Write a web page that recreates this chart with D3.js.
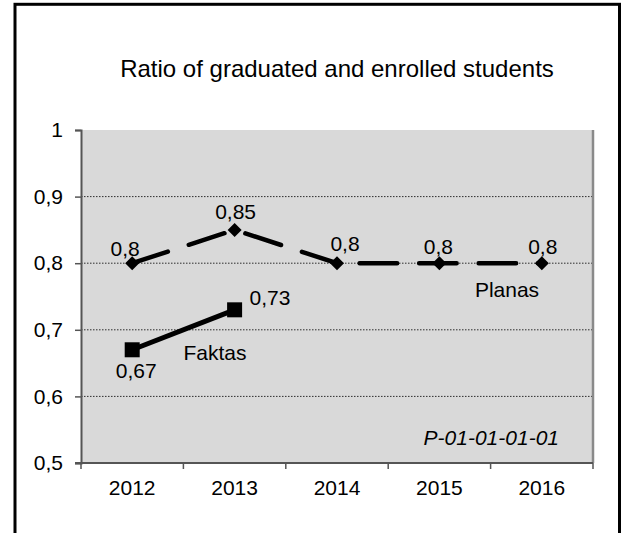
<!DOCTYPE html>
<html><head><meta charset="utf-8">
<script src="https://cdn.jsdelivr.net/npm/d3@7"></script>
<style>
html,body{margin:0;padding:0;background:#fff;}
svg{display:block;font-family:"Liberation Sans",Arial,sans-serif;}
</style></head>
<body>
<svg id="chart" width="630" height="533"></svg>
<script>
const title = "Ratio of graduated and enrolled students";
const years = ["2012","2013","2014","2015","2016"];
const planas = [0.8, 0.85, 0.8, 0.8, 0.8];
const faktas = [0.67, 0.73];
const yTicks = [0.5, 0.6, 0.7, 0.8, 0.9, 1.0];
const gridTicks = [0.6, 0.7, 0.8, 0.9];
const planasName = "Planas";
const faktasName = "Faktas";
const code = "P-01-01-01-01";

// layout offsets for data labels (dx, dy from point)
const planasLabelOff = [[-7,-7],[1,-11],[8,-12],[-1,-9],[1,-9]];
const faktasLabelOff = [[4,28,"middle"],[15,-5,"start"]];

const fmt = v => String(v).replace(".", ",");
const FS = 21;

const svg = d3.select("#chart");
const L = 81, R = 593, T = 130, B = 463;

// outer frame
svg.append("rect").attr("x",15).attr("y",4.3).attr("width",604.5).attr("height",560)
  .attr("fill","none").attr("stroke","#000").attr("stroke-width",3);

const x = d3.scaleBand().domain(years).range([L,R]).padding(0);
const xc = d => x(d) + x.bandwidth()/2;
const y = d3.scaleLinear().domain([0.5,1]).range([B,T]);

// plot background
svg.append("rect").attr("x",L).attr("y",T).attr("width",R-L).attr("height",B-T).attr("fill","#d9d9d9");

// gridlines
svg.append("g").selectAll("line").data(gridTicks).join("line")
  .attr("x1",L).attr("x2",R).attr("y1",d=>y(d)).attr("y2",d=>y(d))
  .attr("stroke","#000").attr("stroke-width",0.8).attr("stroke-dasharray","1.5,1.5");

// right edge
svg.append("line").attr("x1",R).attr("x2",R).attr("y1",T).attr("y2",B)
  .attr("stroke","#8a8a8a").attr("stroke-width",2.5);

// y axis
const yAxis = d3.axisLeft(y).tickValues(yTicks).tickSize(6).tickPadding(12)
  .tickFormat(d => fmt(d === 1 ? 1 : +d.toFixed(1)));
const gy = svg.append("g").attr("transform",`translate(${L},0)`).call(yAxis);
gy.select(".domain").attr("stroke","#555").attr("stroke-width",2);
gy.selectAll(".tick line").attr("stroke","#555").attr("stroke-width",1.5);
gy.selectAll(".tick text").attr("font-size",FS).attr("fill","#000")
  .attr("font-family","Liberation Sans, Arial, sans-serif");

// x axis
const xTickScale = d3.scaleLinear().domain([0,years.length]).range([L,R]);
const gx = svg.append("g").attr("transform",`translate(0,${B})`);
gx.append("line").attr("x1",L-6).attr("x2",R).attr("y1",0).attr("y2",0)
  .attr("stroke","#555").attr("stroke-width",2);
gx.selectAll("line.tk").data(d3.range(years.length+1)).join("line").attr("class","tk")
  .attr("x1",i=>xTickScale(i)).attr("x2",i=>xTickScale(i)).attr("y1",0).attr("y2",6)
  .attr("stroke","#555").attr("stroke-width",1.5);
gx.selectAll("text").data(years).join("text")
  .attr("x",d=>xc(d)).attr("y",32).attr("text-anchor","middle")
  .attr("font-size",FS).attr("fill","#000").text(d=>d);

// Planas line (dashed)
const line = d3.line().x(d=>d[0]).y(d=>d[1]);
const pPts = years.map((yr,i)=>[xc(yr), y(planas[i])]);
svg.append("path").attr("d",line(pPts)).attr("fill","none").attr("stroke","#000")
  .attr("stroke-width",4.5).attr("stroke-linecap","round").attr("stroke-dasharray","37.5,22");
svg.append("g").selectAll("path").data(pPts).join("path")
  .attr("d",d=>`M${d[0]},${d[1]-7}L${d[0]+7},${d[1]}L${d[0]},${d[1]+7}L${d[0]-7},${d[1]}Z`)
  .attr("fill","#000");

// Faktas line
const fPts = faktas.map((v,i)=>[xc(years[i]), y(v)]);
svg.append("path").attr("d",line(fPts)).attr("fill","none").attr("stroke","#000")
  .attr("stroke-width",5);
svg.append("g").selectAll("rect").data(fPts).join("rect")
  .attr("x",d=>d[0]-7.5).attr("y",d=>d[1]-7.5).attr("width",15).attr("height",15).attr("fill","#000");

// data labels
svg.append("g").selectAll("text").data(pPts).join("text")
  .attr("x",(d,i)=>d[0]+planasLabelOff[i][0]).attr("y",(d,i)=>d[1]+planasLabelOff[i][1])
  .attr("text-anchor","middle").attr("font-size",FS).attr("fill","#000")
  .text((d,i)=>fmt(planas[i]));
svg.append("g").selectAll("text").data(fPts).join("text")
  .attr("x",(d,i)=>d[0]+faktasLabelOff[i][0]).attr("y",(d,i)=>d[1]+faktasLabelOff[i][1])
  .attr("text-anchor",(d,i)=>faktasLabelOff[i][2]).attr("font-size",FS).attr("fill","#000")
  .text((d,i)=>fmt(faktas[i]));

// series names
svg.append("text").attr("x",215).attr("y",360).attr("text-anchor","middle")
  .attr("font-size",FS).text(faktasName);
svg.append("text").attr("x",507).attr("y",297).attr("text-anchor","middle")
  .attr("font-size",FS).text(planasName);
svg.append("text").attr("x",559).attr("y",445).attr("text-anchor","end")
  .attr("font-size",FS).attr("font-style","italic").text(code);

// title
svg.append("text").attr("x",337).attr("y",77).attr("text-anchor","middle")
  .attr("font-size",24).attr("fill","#000").text(title);
</script>
</body></html>
